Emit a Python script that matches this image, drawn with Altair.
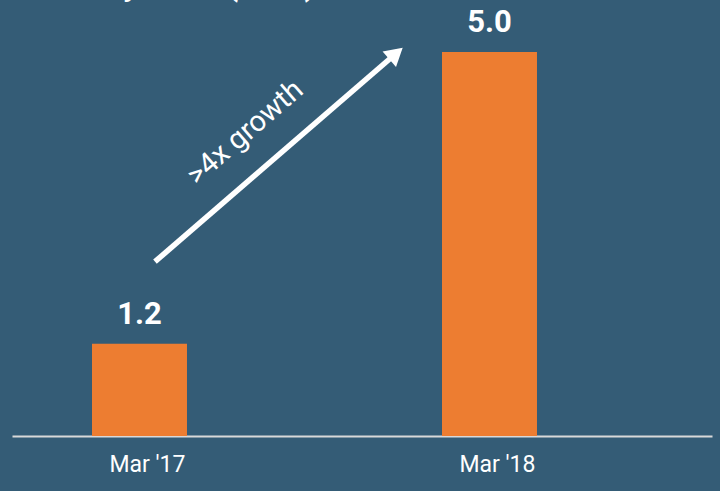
import altair as alt
import pandas as pd

# Data
periods = ["Mar '17", "Mar '18"]
values = [1.2, 5.0]
value_labels = ["1.2", "5.0"]

title_text = ["Monthly users (MAU)"]

# Annotation (arrow anchored to data)
arrow_from_period = ["Mar '17"]
arrow_to_period = ["Mar '18"]
arrow_from_value = [2.27]
arrow_to_value = [4.98]
growth_text = [">4x growth"]
growth_period = ["Mar '17"]
growth_value = [3.95]

BG = "#345C76"
ORANGE = "#ED7D31"
FONT = "Roboto"

bars_df = pd.DataFrame({"period": periods, "value": values, "label": value_labels})
arrow_df = pd.DataFrame({"p0": arrow_from_period, "p1": arrow_to_period,
                         "v0": arrow_from_value, "v1": arrow_to_value})
growth_df = pd.DataFrame({"period": growth_period, "value": growth_value, "text": growth_text})
title_df = pd.DataFrame({"text": title_text})

x_scale = alt.Scale(domain=periods, paddingInner=0.7286, paddingOuter=0.3643, align=0.3137)
y_scale = alt.Scale(domain=[0, 5])

x_enc = alt.X("period:N", scale=x_scale, sort=periods,
              axis=alt.Axis(title=None, labelAngle=0, ticks=False, domain=True,
                            domainColor="#D9D9D9", domainWidth=2, labelColor="white",
                            labelFont=FONT, labelFontSize=23, labelPadding=17, labelOffset=8,
                            grid=False))
y_enc = alt.Y("value:Q", scale=y_scale, axis=None)

bars = alt.Chart(bars_df).mark_bar(color=ORANGE).encode(x=x_enc, y=y_enc)

labels = alt.Chart(bars_df).mark_text(
    color="white", font=FONT, fontSize=31, fontWeight="bold",
    baseline="alphabetic", dy=-20
).encode(x=alt.X("period:N", scale=x_scale, sort=periods), y=y_enc, text="label:N")

arrow_line = alt.Chart(arrow_df).mark_rule(
    color="white", strokeWidth=5.5, xOffset=15.5, x2Offset=-93.5
).encode(
    x=alt.X("p0:N", scale=x_scale, sort=periods),
    x2="p1:N",
    y=alt.Y("v0:Q", scale=y_scale),
    y2="v1:Q",
)

arrow_head = alt.Chart(arrow_df).mark_point(
    shape="triangle-up", filled=True, color="white", opacity=1, size=420,
    angle=49, xOffset=-93.5
).encode(
    x=alt.X("p1:N", scale=x_scale, sort=periods),
    y=alt.Y("v1:Q", scale=y_scale),
)

growth = alt.Chart(growth_df).mark_text(
    color="white", font=FONT, fontSize=29, angle=319, align="center",
    baseline="middle", xOffset=105.5
).encode(
    x=alt.X("period:N", scale=x_scale, sort=periods),
    y=alt.Y("value:Q", scale=y_scale),
    text="text:N",
)

title = alt.Chart(title_df).mark_text(
    color="white", font=FONT, fontSize=30, fontWeight="bold",
    align="left", baseline="alphabetic"
).encode(x=alt.value(16), y=alt.value(-56), text="text:N")

chart = alt.layer(bars, labels, arrow_line, arrow_head, growth, title).properties(
    width=700, height=384,
    background=BG,
    padding={"left": 12, "top": 52, "right": 8, "bottom": 55},
    autosize=alt.AutoSizeParams(type="none"),
).configure_view(stroke=None)

chart.save("out.html", embed_options={"renderer": "svg", "actions": False})
